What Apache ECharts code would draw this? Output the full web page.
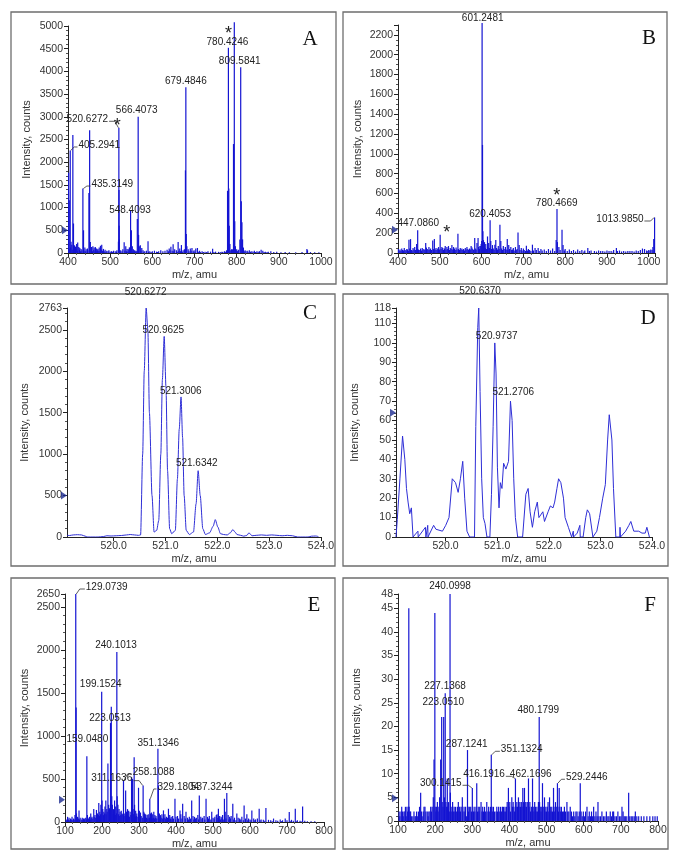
<!DOCTYPE html>
<html><head><meta charset="utf-8">
<script src="https://cdn.jsdelivr.net/npm/echarts@6/dist/echarts.min.js"></script>
<style>html,body{margin:0;padding:0;background:#fff}#c{width:685px;height:865px}</style>
</head><body><div id="c"></div>
<script>
// ================= DATA =================
// Panel A: MS spectrum 400-1000 (m/z, intensity)
const sticksA = [
[401.5,1770],[403.0,1160],[405.29,2260],[407.2,250],[409.0,180],[411.5,2600],[413.0,650],[415.5,170],[418,140],[420.5,200],[423,230],[425.5,130],[428,110],[431,90],[435.31,1420],[436.8,500],[440,120],[443,80],[446,100],[449.6,1320],[451.3,2705],[453,240],[456,130],[459,150],[462,120],[465,130],[468,100],[471,90],[474,120],[477,160],[480,180],[484,90],[488,70],[492,50],[497,60],[503,40],[508,50],[512,40],[516,60],[519.6,250],[520.63,2760],[520.96,1390],[521.30,600],[521.63,300],[525,60],[530,80],[533.2,235],[537,150],[540,90],[543,80],[545.5,120],[547.0,120],[548.41,925],[550.3,500],[552.5,150],[555,80],[558,60],[561,50],[564.4,750],[566.41,3000],[567.4,400],[569,150],[571.5,170],[575,110],[578,60],[582,40],[586,50],[589.8,260],[594,40],[600,40],[605,50],[610,30],[615,40],[620,60],[625,40],[630,50],[635,70],[640,100],[644,140],[649.3,190],[653,80],[657,60],[661.2,240],[665,100],[669,175],[673,60],[676,80],[678.5,1820],[679.48,3650],[680.5,420],[682,150],[685,80],[690,100],[694,110],[699,60],[703,100],[707,110],[712,50],[718,40],[725,30],[732,40],[738,30],[743,95],[750,30],[757,25],[765,30],[771,40],[776,60],[778.4,1370],[780.42,4520],[781.4,1420],[782.4,600],[784,200],[788,80],[792.5,2400],[794.4,5080],[795.5,700],[797,150],[800,80],[804,70],[807.6,300],[809.58,4090],[811.0,1140],[812.5,680],[814,300],[816,120],[820,60],[825,50],[830,60],[836,40],[842,50],[848,40],[854,40],[858,70],[862,50],[868,30],[875,30],[881,40],[888,20],[895,25],[905,15],[915,20],[925,15],[940,15],[955,20],[966.6,90],[968,60],[975,20],[985,15],[995,15],
[402,60],[404,90],[406,120],[410,70],[414,80],[417,60],[419,90],[422,50],[427,70],[430,40],[433,60],[438,50],[442,40],[447,60],[455,60],[458,40],[461,70],[464,50],[467,40],[470,60],[473,50],[476,40],[479,70],[482,50],[486,40],[490,30],[495,40],[500,30],[506,30],[515,30],[523,30],[528,40],[535,50],[539,40],[542,30],[554,40],[560,30],[563,40],[573,50],[580,30],[591,30],[597,20],[612,20],[638,40],[642,60],[647,50],[651,40],[659,30],[663,50],[667,40],[671,30],[687,40],[692,50],[697,40],[701,30],[709,30],[714,20],[721,20],[729,20],[746,20],[761,20],[767,20],[774,30],[786,60],[790,80],[799,40],[802,40],[818,40],[822,40],[827,30],[833,30],[839,30],[845,20],[851,30],[865,20],[872,20]
];
// Panel B: MS spectrum 400-1015
const sticksB = [
[426.2,134],[430,140],[444.6,90],[447.09,230],[466.3,100],[483.1,127],[487,140],[500.9,184],[505,60],[513,70],[520.8,70],[529,80],[533,60],[543.4,194],[565,60],[575,70],[583.6,151],[589,100],[591.6,151],[596,70],[600.2,120],[601.25,2320],[602.25,1090],[603.2,220],[604.5,130],[607,110],[610,90],[614.2,167],[617,100],[620.41,330],[622,120],[626,80],[631.8,84],[634,130],[640,70],[643.9,285],[646,120],[652,70],[657,60],[661.5,141],[665,80],[670,60],[676,50],[681,60],[687.2,208],[690,80],[695,50],[700,45],[707.2,74],[712,40],[721.7,84],[728,50],[735.4,50],[742,40],[750,35],[760,40],[770,45],[778.5,130],[780.47,443],[781.5,110],[785,60],[792.5,235],[795,80],[800,40],[810,35],[820,30],[830,35],[840,30],[847,25],[854.2,50],[862,25],[870,20],[880,25],[890,20],[900,25],[910,20],[916,30],[922.6,50],[930,25],[940,20],[950,20],[960,20],[970,25],[980,30],[985,45],[990,40],[995,25],[1000,30],[1005,35],[1010,60],[1012,140],[1013.98,358],
[401,40],[403,25],[405,35],[407,20],[409,45],[411,30],[413,25],[415,50],[417,30],[419,25],[421,40],[423,35],[425,20],[428,45],[432,30],[434,25],[436,50],[438,35],[440,60],[442,30],[446,40],[449,35],[452,30],[454,45],[456,25],[458,50],[460,35],[462,40],[464,30],[468,55],[470,40],[472,30],[474,60],[476,35],[478,45],[480,30],[485,40],[489,35],[491,50],[493,30],[495,45],[497,60],[499,35],[503,40],[507,50],[509,30],[511,45],[515,35],[517,60],[519,40],[523,30],[525,50],[527,40],[531,35],[535,45],[537,30],[539,55],[541,35],[545,40],[547,30],[549,50],[551,35],[553,45],[555,30],[557,40],[559,25],[561,50],[563,35],[567,40],[569,30],[571,45],[573,35],[577,55],[579,40],[581,30],[585,45],[587,35],[593,60],[595,40],[598,70],[599,90],[605,80],[606,60],[609,50],[612,40],[615,60],[619,50],[624,40],[628,45],[630,30],[636,50],[638,35],[642,40],[648,45],[650,30],[654,40],[659,35],[663,30],[667,40],[672,30],[674,35],[678,25],[683,30],[685,40],[692,30],[697,25],[702,30],[705,20],[710,25],[715,30],[718,20],[724,25],[731,30],[738,20],[745,25],[755,20],[765,25],[775,20],[788,30],[798,25],[805,20],[815,20],[825,15],[835,20],[845,15],[858,20],[875,15],[885,20],[895,15],[905,20],[915,15],[925,20],[935,15],[945,15],[955,20],[965,15],[975,20],[998,20],[1003,25],[1008,30]
];
// Panel C: profile of the 520.6 isotope cluster
const profileC = [
[519.10,20],[519.15,18],[519.22,25],[519.30,28],[519.38,25],[519.45,10],[519.50,0],[519.60,0],[519.70,0],[519.80,5],[519.87,15],[519.95,12],[520.05,15],[520.15,18],[520.25,25],[520.32,30],[520.40,25],[520.48,20],[520.52,25],[520.56,1000],[520.59,2000],[520.627,2763],[520.66,2500],[520.69,1500],[520.74,500],[520.78,60],[520.83,80],[520.87,200],[520.91,1000],[520.94,1900],[520.975,2420],[521.01,1800],[521.04,800],[521.08,100],[521.12,40],[521.19,80],[521.23,700],[521.265,1300],[521.30,1690],[521.33,1200],[521.36,500],[521.40,80],[521.46,30],[521.54,60],[521.59,400],[521.63,800],[521.67,500],[521.72,100],[521.77,30],[521.85,50],[521.92,130],[521.96,210],[522.01,120],[522.06,40],[522.12,30],[522.19,25],[522.25,50],[522.30,90],[522.34,60],[522.38,30],[522.45,20],[522.51,10],[522.57,20],[522.61,50],[522.67,15],[522.75,20],[522.85,25],[522.95,20],[523.05,25],[523.15,20],[523.25,15],[523.35,20],[523.45,15],[523.55,0],[523.65,0],[523.75,0],[523.82,10],[523.90,12],[523.95,5]
];
// Panel D: profile, low-intensity sample
const profileD = [
[519.040,0],[519.065,9],[519.116,30],[519.167,52],[519.211,40],[519.243,25],[519.274,18],[519.306,12],[519.338,15],[519.370,0],[519.465,3],[519.470,0],[519.610,5],[519.620,0],[519.655,6],[519.660,0],[519.769,6],[519.813,4],[519.940,3],[520.003,6],[520.067,10],[520.130,30],[520.193,28],[520.244,23],[520.288,30],[520.333,39],[520.371,20],[520.415,3],[520.466,0],[520.561,0],[520.586,57],[520.624,108],[520.643,118],[520.669,75],[520.700,30],[520.732,10],[520.764,7],[520.802,0],[520.859,0],[520.890,22],[520.922,57],[520.954,100],[520.979,84],[521.005,36],[521.036,15],[521.062,28],[521.093,25],[521.125,38],[521.169,35],[521.220,39],[521.258,70],[521.290,60],[521.321,30],[521.353,10],[521.397,0],[521.493,0],[521.556,22],[521.600,25],[521.638,13],[521.683,5],[521.727,13],[521.778,18],[521.809,10],[521.841,10],[521.885,13],[521.917,8],[521.955,8],[521.987,13],[522.031,16],[522.082,15],[522.114,18],[522.158,25],[522.190,30],[522.234,28],[522.285,20],[522.316,10],[522.380,5],[522.443,0],[522.475,3],[522.480,0],[522.551,2],[522.602,6],[522.610,0],[522.665,0],[522.716,10],[522.747,14],[522.792,12],[522.855,0],[522.931,3],[522.982,10],[523.045,20],[523.096,27],[523.140,50],[523.172,63],[523.223,50],[523.254,25],[523.299,0],[523.375,0],[523.380,5],[523.390,0],[523.489,3],[523.552,6],[523.590,8],[523.647,3],[523.742,3],[523.806,2],[523.869,2],[523.901,5],[523.950,0]
];
// Panel E: MS/MS spectrum 100-800
const sticksE = [
[103,30],[107,60],[111,50],[115,40],[119,60],[123,40],[127,80],[129.07,2650],[130.08,1330],[131,100],[134,60],[137.9,135],[141,50],[146.6,50],[150,40],[153,30],[156,50],[159.05,764],[160.5,80],[163,40],[166,60],[169.6,100],[173,60],[177.7,150],[181,80],[185,140],[188,100],[191.3,220],[194,120],[197,200],[199.15,1513],[200.2,250],[202,150],[205,120],[208,180],[210.3,250],[213,150],[216,680],[218,200],[220,160],[223.05,1150],[225.1,1340],[226.5,300],[228,200],[231,150],[234,250],[237,180],[240.10,1975],[241.1,300],[243,200],[246,150],[249,120],[252,130],[254,100],[258.1,483],[260,100],[263.9,367],[266,120],[269,150],[272,130],[276,120],[279.9,521],[282.5,502],[284,150],[286.9,752],[288,200],[291,130],[294,100],[298.7,398],[301,130],[304,110],[311.16,425],[313,120],[315,100],[318,90],[322,80],[325,90],[329.18,270],[331,100],[334,110],[337,90],[340,120],[343,80],[346,70],[351.13,850],[352.5,425],[355,100],[358,80],[362,90],[366.1,135],[370,90],[374,60],[379.6,154],[383,80],[387,60],[391,70],[397.2,270],[400,60],[404,70],[410.8,135],[413,90],[418,212],[422,70],[427,120],[431,50],[436,60],[442.4,251],[446,70],[450,60],[455,50],[459,80],[463,309],[467,60],[472,50],[476,70],[481.2,270],[485,60],[490,70],[496.6,120],[500,50],[505,60],[509,80],[511,90],[514.6,154],[518,70],[522,60],[526,80],[530.9,270],[533,120],[537.3,336],[541,80],[545,60],[549,70],[553.5,212],[558,50],[564.4,100],[568,50],[572,40],[578,60],[584.1,193],[588,40],[591.5,90],[596,40],[600,30],[605,135],[610,40],[615,30],[620,40],[624.8,154],[630,30],[636,25],[643,162],[650,25],[656,20],[663.6,40],[670,20],[675,15],[681.7,30],[688,20],[695.2,40],[700,20],[706.1,116],[712,25],[717,15],[722.4,154],[728,20],[735,15],[742.2,181],[748,15],[755,10],[765,10],[775,8],
[105,20],[109,30],[113,20],[117,30],[121,20],[125,30],[136,40],[139,30],[144,30],[148,20],[152,40],[158,30],[162,30],[165,40],[168,30],[171,50],[175,40],[179,60],[183,50],[187,60],[190,80],[193,70],[196,90],[204,80],[207,100],[211,90],[214,120],[222,100],[230,90],[233,110],[236,80],[239,100],[245,90],[248,70],[251,80],[256,90],[262,70],[265,80],[268,90],[271,70],[274,60],[278,80],[281,70],[285,90],[290,60],[293,70],[297,60],[300,80],[303,60],[306,70],[309,50],[317,60],[320,50],[324,40],[328,50],[333,60],[336,40],[339,50],[342,40],[345,50],[348,40],[357,40],[360,50],[364,40],[368,50],[372,40],[377,50],[381,40],[385,40],[389,30],[393,40],[399,30],[407,40],[416,40],[425,40],[434,30],[439,40],[448,30],[453,40],[461,30],[470,40],[478,30],[488,40],[494,30],[503,40],[513,50],[516,40],[520,30],[524,40],[529,30],[535,40],[543,30],[547,40],[556,30],[562,20],[575,30],[582,20],[594,20],[603,20],[613,20],[627,20],[640,15],[660,10],[685,10],[710,10],[725,10],[738,10]
];
// Panel F: MS/MS spectrum 100-800, low intensity
const sticksF = [
[103,2],[105,1],[108,2],[110,3],[112,2],[114,1],[116,2],[118.6,2],[120,3],[122,1],[124,3],[126,2],[128,3],[129.1,45],[130.1,3],[132,2],[134,2],[136,1],[140,1],[143,2],[146,1],[148,1],[150,2],[152,1],[155,2],[158,3],[161,6],[163,2],[165,1],[168,2],[170,3],[172.6,3],[175,2],[178.8,2],[181,1],[183,2],[186,2],[188,3],[190,2],[192,3],[195,5],[197,13],[199.2,44],[200.2,3],[202,2],[204,3],[206,4],[208,2],[210,3],[212,5],[214.9,13],[217.6,22],[219,4],[221,3],[223.05,22],[225,5],[227.14,27],[229,4],[231,3],[232.7,9],[234,3],[236,4],[238,2],[240.1,48],[241.1,6],[243,3],[245,2],[247,4],[249,2],[251,3],[253,2],[255,3],[258,2],[260,3],[262.4,4],[264,2],[266,3],[268,2],[270,3],[273.2,5],[275,2],[277.8,3],[280,2],[282,3],[284,1],[287.12,15],[288.5,3],[290,2],[292,3],[295.8,3],[298,2],[300.14,7],[303,2],[305,3],[307,2],[310,3],[312,8],[314,2],[316,3],[318,2],[320,3],[323.6,4],[326,2],[328,3],[330,2],[333,3],[336,2],[339,4],[342,2],[344,3],[347,2],[349,3],[351.13,14],[353,3],[355,2],[357,3],[360,2],[364,2],[366,3],[368,2],[371,3],[374,2],[376,3],[379,2],[381,3],[383.8,3],[386,2],[388,3],[390,2],[392,3],[394,4],[397.3,7],[399,3],[401,4],[403,2],[406.4,5],[408,3],[410,4],[412,3],[414,2],[416.19,9],[418,3],[420,4],[422,3],[424.3,5],[426,3],[428,4],[430,3],[432,4],[434,3],[436,7],[438,4],[440.5,7],[442,3],[444,4],[446,3],[448,4],[451.3,9],[453,3],[455,4],[457,2],[459,3],[462.17,9],[464,3],[466,2],[468,4],[470,3],[472,2],[474,3],[476,2],[478,4],[480.18,22],[481.2,4],[483,3],[485,2],[487,3],[489,8],[491,3],[494.4,5],[496,2],[498,3],[500,2],[502,3],[504,4],[506,2],[508,5],[510,3],[512,2],[514,3],[516,2],[518.7,7],[520,3],[522,2],[524,4],[526,3],[529.24,8],[530.5,3],[532,2],[534,7],[536,3],[538,2],[540,3],[543,2],[546,2],[548,3],[551,2],[554.8,4],[557,2],[560,2],[563.7,3],[567,2],[570,1],[573,2],[576,1],[579,2],[582,2],[585,1],[588,2],[590.7,8],[593,2],[596,1],[599,2],[602,1],[605,2],[608.8,3],[612,1],[615,2],[618,1],[621,2],[624,1],[626.7,3],[630,1],[633,2],[636,1],[638.4,4],[641,1],[645,1],[649,2],[653,1],[657,1],[661,2],[665,1],[668,1],[671.5,2],[675,1],[678,2],[680.5,2],[684,1],[688,1],[692,2],[696,1],[700,1],[703,3],[706,2],[709,1],[712,1],[716,1],[721,6],[724,1],[728,1],[732,1],[736,1],[739,2],[743,1],[748,1],[755,1],[762,1],[770,1],[778,1],[786,1],[792,1],[798,1]
];

// axis ranges: [min, max, interval]
const xRanges = [[400,1000,100],[400,1015,100],[519.1,524.0,null],[519.04,524.0,null],[100,800,100],[100,800,100]];
const yRanges = [[0,5000,500],[0,2300,200],[0,2763,500],[0,118,10],[0,2650,500],[0,48,5]];
const xTicksCD = [520,521,522,523,524];
const markerLevels = [500,235,500,64,260,4.8];
const panelLetters = ['A','B','C','D','E','F'];

// peak annotations: [text, m/z of peak, intensity of peak]
const annA = [['780.4246',780.42,4520],['*',780.42,4520],['809.5841',809.58,4090],['679.4846',679.48,3650],['566.4073',566.41,3000],['520.6272',520.63,2760],['*',520.63,2760],['405.2941',405.29,2260],['435.3149',435.31,1420],['548.4093',548.41,925]];
const annB = [['601.2481',601.25,2320],['620.4053',620.41,330],['780.4669',780.47,443],['*',780.47,443],['447.0860',447.09,230],['*',520.8,70],['1013.9850',1013.98,358]];
const annC = [['520.6272',520.627,2763],['520.9625',520.975,2420],['521.3006',521.30,1690],['521.6342',521.63,800]];
const annD = [['520.6370',520.643,118],['520.9737',520.954,100],['521.2706',521.258,70]];
const annE = [['129.0739',129.07,2650],['240.1013',240.10,1975],['199.1524',199.15,1513],['223.0513',223.05,1150],['159.0480',159.05,764],['351.1346',351.13,850],['258.1088',258.1,483],['311.1636',311.16,425],['329.1804',329.18,270],['537.3244',537.3,336]];
const annF = [['240.0998',240.1,48],['227.1368',227.14,27],['223.0510',223.05,22],['287.1241',287.12,15],['351.1324',351.13,14],['480.1799',480.18,22],['416.1916',416.19,9],['462.1696',462.17,9],['300.1415',300.14,7],['529.2446',529.24,8]];

// ================= LAYOUT / STYLE =================
// label placement relative to the peak top: [dx, dy, leaderLine]
const annLayout = [
  [[-1,-6,0],[0,-13.4,0],[-1,-5.6,0],[0,-5.6,0],[-1.5,-6.8,0],[-31.6,-8.4,1],[-1.6,-1.4,0],[29.1,-5.4,1],[29.4,-4.5,1],[-0.6,-0.3,0]],
  [[0.6,-4.8,0],[0,-5.6,0],[-0.3,-6,0],[-0.3,-13,0],[0.6,-6.5,0],[-1.8,-12.8,0],[-34.6,1.5,1]],
  [[-0.5,-16,0],[-0.9,-6,0],[-0.3,-5.6,0],[-1.4,-7.7,0]],
  [[1.3,-16.7,0],[1.9,-6.9,0],[2.8,-8.6,0]],
  [[30.9,-7,1],[-0.8,-6.8,0],[-1,-7.2,0],[-0.5,-5.1,0],[0.5,-16.7,0],[0.4,-5.3,0],[30.1,-8.4,1],[-31.4,-6.8,1],[28.5,-11.8,1],[-15.1,-6.1,0]],
  [[0,-7.3,0],[-0.2,-6.6,0],[-0.4,-14.3,0],[-0.8,-6.1,0],[30.4,-5.5,1],[-0.9,-6.3,0],[-31.4,-4.1,1],[-1.8,-4.1,0],[-31.6,-4.6,1],[29.3,-5.9,1]]
];
const grids = [
  {left:68, top:26, width:253, height:227},
  {left:398, top:25, width:257, height:228},
  {left:67, top:308, width:254, height:229},
  {left:396, top:308, width:256, height:229},
  {left:65, top:594, width:259, height:228},
  {left:398, top:594, width:260, height:227}
];
const boxes = [[11,12,325,272],[343,12,324,272],[11,294,324,272],[343,294,325,272],[11,578,324,271],[343,578,325,271]];
const letterPos = [[310,39],[649,38],[310,313],[648,318],[314,605],[650,605]];
const yNameGap = [36,35,37,36,35,36];
const FONT = '"Liberation Sans", Arial, sans-serif';
const BLUE = '#1414d2';

const allAnn = [annA, annB, annC, annD, annE, annF];
const sticks = [sticksA, sticksB, null, null, sticksE, sticksF];
const profiles = [null, null, profileC, profileD, null, null];
const plain = v => String(Math.round(v * 1000) / 1000);

const xAxes = [], yAxes = [], series = [];
for (let i = 0; i < 6; i++) {
  const xr = xRanges[i], yr = yRanges[i];
  const xa = {
    type:'value', gridIndex:i, min:xr[0], max:xr[1],
    name:'m/z, amu', nameLocation:'middle', nameGap:16,
    nameTextStyle:{fontSize:11, color:'#333', fontFamily:FONT},
    axisLine:{show:true, lineStyle:{color:'#222', width:1}},
    axisTick:{show:true, length:4, lineStyle:{color:'#222'}},
    splitLine:{show:false},
    axisLabel:{fontSize:10.5, color:'#333', margin:4, fontFamily:FONT, formatter:plain}
  };
  if (xr[2]) {
    xa.interval = xr[2];
    xa.minorTick = {show:true, splitNumber:5, length:2, lineStyle:{color:'#555'}};
    xa.axisLabel.showMaxLabel = (i === 1) ? false : true;
  } else {
    xa.axisLabel.customValues = xTicksCD;
    xa.axisTick.customValues = xTicksCD;
    xa.axisLabel.formatter = v => Number(v).toFixed(1);
  }
  xAxes.push(xa);
  yAxes.push({
    type:'value', gridIndex:i, min:yr[0], max:yr[1], interval:yr[2],
    name:'Intensity, counts', nameLocation:'middle', nameGap:yNameGap[i],
    nameTextStyle:{fontSize:11, color:'#333', fontFamily:FONT},
    axisLine:{show:true, lineStyle:{color:'#222', width:1}},
    axisTick:{show:true, length:4, lineStyle:{color:'#222'}},
    minorTick:{show:true, splitNumber:(i===1?4:5), length:2, lineStyle:{color:'#555'}},
    splitLine:{show:false},
    axisLabel:{fontSize:10.5, color:'#333', margin:5, fontFamily:FONT, formatter:plain,
      showMinLabel:true, showMaxLabel:(i===1?false:true)}
  });
  if (sticks[i]) {
    series.push({type:'bar', xAxisIndex:i, yAxisIndex:i, data:sticks[i], barWidth:1.2, clip:false,
      itemStyle:{color:BLUE}, silent:true});
  }
  if (profiles[i]) {
    series.push({type:'line', xAxisIndex:i, yAxisIndex:i, data:profiles[i], showSymbol:false, symbol:'none',
      smooth:(i===2?0.25:false), smoothMonotone:'x', lineStyle:{color:'#2e2ed6', width:1}, silent:true});
  }
  series.push({type:'scatter', xAxisIndex:i, yAxisIndex:i, data:[[xr[0], markerLevels[i]]],
    symbol:'triangle', symbolSize:[8,6], symbolRotate:-90, symbolOffset:[-3,0], clip:false,
    itemStyle:{color:'#1c2a90'}, silent:true, z:5});
}

const chart = echarts.init(document.getElementById('c'), null, {renderer:'canvas'});
chart.setOption({
  animation:false,
  backgroundColor:'#ffffff',
  textStyle:{fontFamily:FONT},
  grid: grids,
  xAxis: xAxes,
  yAxis: yAxes,
  series: series
});

// graphics: panel frames, letters, peak annotations
const g = [];
boxes.forEach(b => g.push({type:'rect', shape:{x:b[0], y:b[1], width:b[2], height:b[3]},
  style:{fill:null, stroke:'#6e6e6e', lineWidth:1.3}, silent:true, z:1}));
panelLetters.forEach((L, i) => g.push({type:'text', x:letterPos[i][0], y:letterPos[i][1],
  style:{text:L, font:'21px "Liberation Serif", "Times New Roman", serif', fill:'#111', align:'center', verticalAlign:'middle'}, silent:true, z:10}));
allAnn.forEach((anns, gi) => {
  anns.forEach((a, k) => {
    const p = chart.convertToPixel({gridIndex:gi}, [a[1], a[2]]);
    const o = annLayout[gi][k];
    const star = a[0] === '*';
    const cx = p[0] + o[0], cy = p[1] + o[1];
    g.push({type:'text', x:cx, y:cy, style:{text:a[0], font:(star ? '18px ' : '10px ') + FONT,
      fill:'#222', align:'center', verticalAlign:'middle'}, silent:true, z:10});
    if (o[2]) {
      const hw = a[0].length * 2.6 + 1;
      const sy = cy + 2;
      const pts = o[0] > 0
        ? [[cx - hw, sy], [p[0] + 4, sy], [p[0] + 0.5, p[1]]]
        : [[cx + hw, sy], [p[0] - 4, sy], [p[0] - 0.5, p[1]]];
      g.push({type:'polyline', shape:{points:pts}, style:{stroke:'#333', lineWidth:0.8, fill:null}, silent:true, z:10});
    }
  });
});
chart.setOption({graphic:{elements:g}});
</script>
</body></html>
